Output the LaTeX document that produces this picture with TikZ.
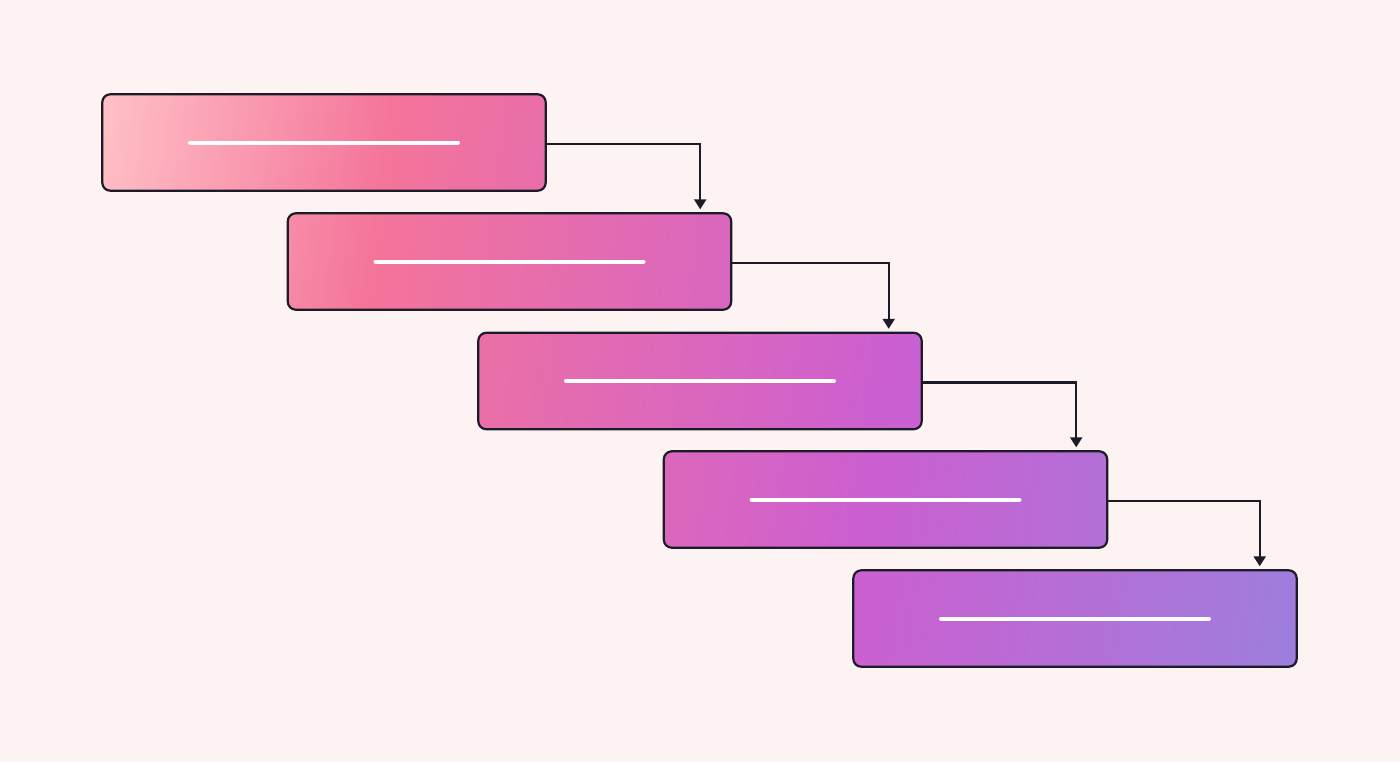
\documentclass[tikz,border=0pt]{standalone}
\usepackage{tikz}
\usetikzlibrary{positioning,arrows.meta}

\definecolor{bgpaper}{HTML}{FDF3F2}
\definecolor{edgeink}{HTML}{1C1C28}
\definecolor{flowA}{HTML}{FFC0C6}
\definecolor{flowB}{HTML}{F4749A}
\definecolor{flowC}{HTML}{CC5FD1}
\definecolor{flowD}{HTML}{9D7EDC}

\pgfdeclarehorizontalshading{flowshade}{100bp}{color(0bp)=(flowA); color(21.7bp)=(flowA);
  color(34.75bp)=(flowB); color(58.16bp)=(flowC); color(78.3bp)=(flowD); color(100bp)=(flowD)}

\tikzset{
  every stage/.style={minimum width=443bp, minimum height=96bp, inner sep=0pt},
  stage edge/.style={draw=edgeink, line width=2.2bp, rounded corners=8bp},
  stage bar/.style={white, line width=4bp, line cap=round},
  stage link/.style={draw=edgeink, line width=2.2bp, -{Triangle[width=12bp,length=10bp]}, shorten >=4bp}
}

\begin{document}
\begin{tikzpicture}[x=1bp, y=-1bp]

\fill [bgpaper] (0,0) rectangle (1400,762);
\useasboundingbox (0,0) rectangle (1400,762);

\foreach \px/\py [count=\i] in {324/142.5, 509.5/261.5, 700/381, 885.5/499.5, 1075/618.5}
  \node [every stage] (stage-\i) at (\px,\py) {};

% one gradient across all five steps
\shade [shading=flowshade, shading angle=-8.18, rounded corners=8bp]
  (stage-1.north west) rectangle (stage-1.south east)
  (stage-2.north west) rectangle (stage-2.south east)
  (stage-3.north west) rectangle (stage-3.south east)
  (stage-4.north west) rectangle (stage-4.south east)
  (stage-5.north west) rectangle (stage-5.south east);

\foreach \i in {1,...,5}
  \draw [stage edge] (stage-\i.north west) rectangle (stage-\i.south east);

\foreach \i in {1,...,5}
  \draw [stage bar] ([xshift=-134bp]stage-\i.center) -- ([xshift=134bp]stage-\i.center);

\foreach \i/\d [count=\j from 2] in {1/31bp, 2/33bp, 3/31bp, 4/37bp}
  \draw [stage link] ([yshift=-1.5bp]stage-\i.east) -| ([xshift=-\d]stage-\j.north east);

\end{tikzpicture}
\end{document}
